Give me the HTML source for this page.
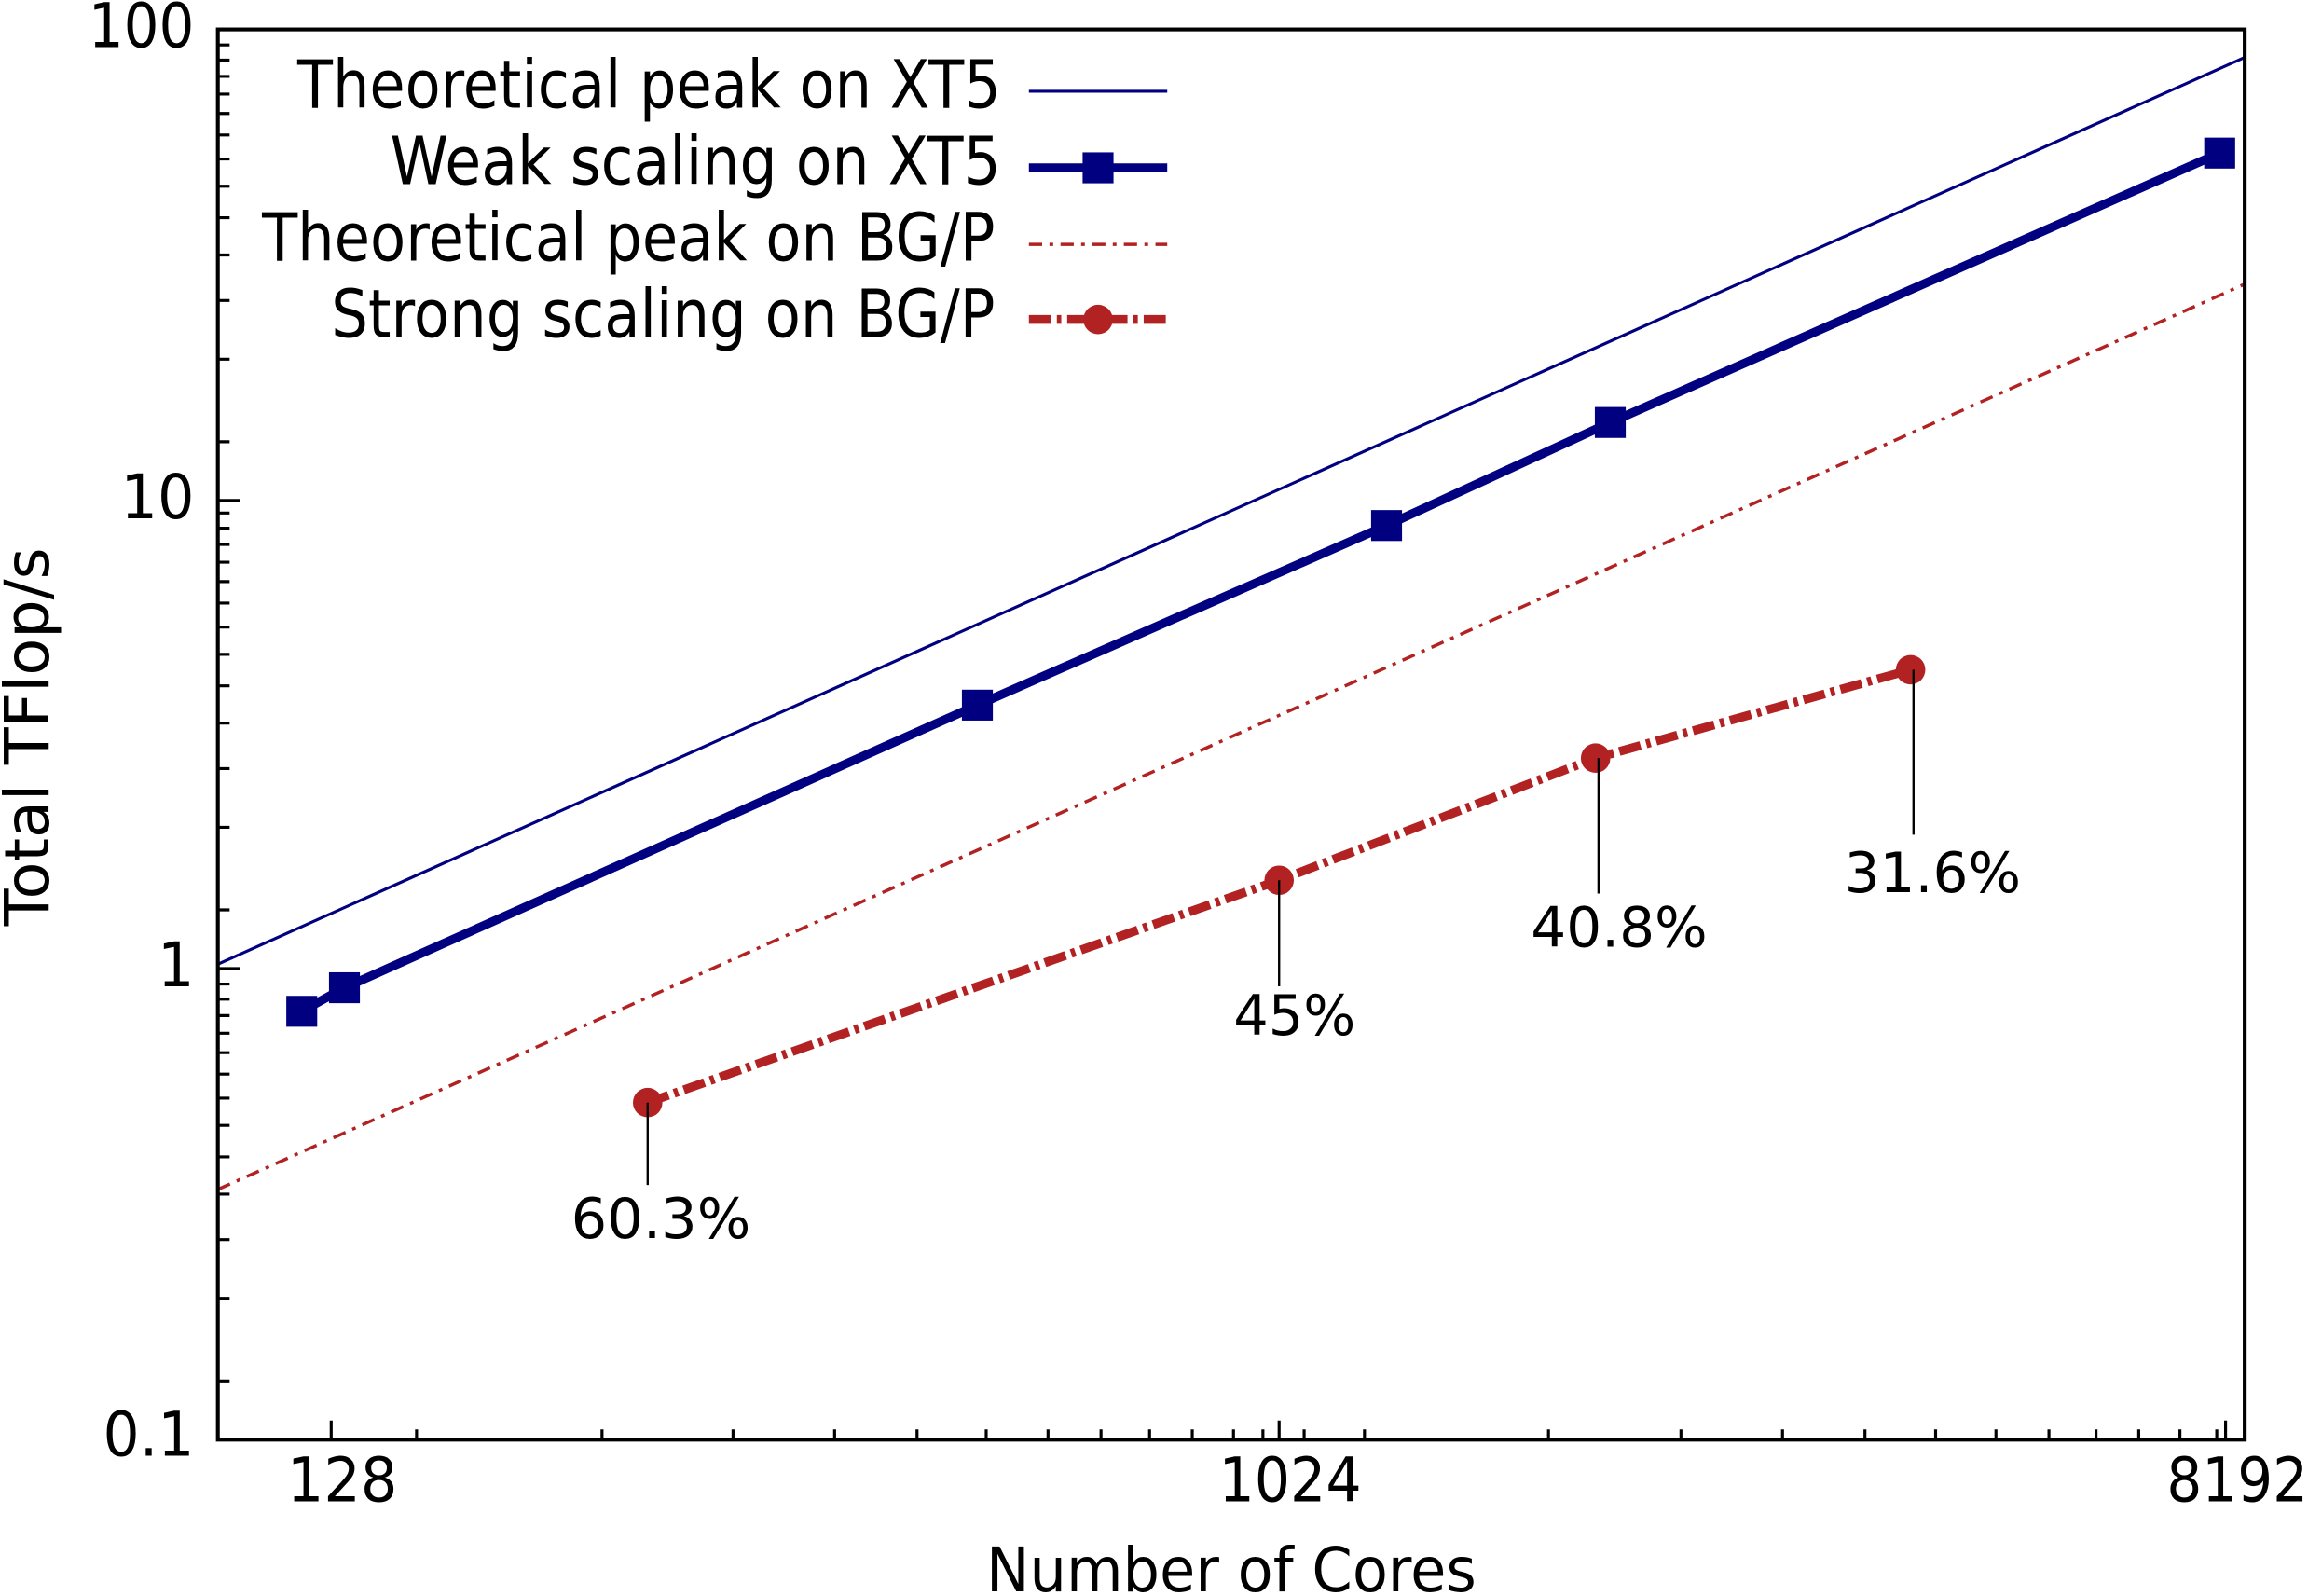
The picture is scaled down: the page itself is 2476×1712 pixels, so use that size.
<!DOCTYPE html>
<html><head><meta charset="utf-8"><style>html,body{margin:0;padding:0;background:#fff}svg{display:block}</style></head>
<body>
<svg width="2476" height="1712" viewBox="0 0 1568 1084.2" preserveAspectRatio="none" xmlns="http://www.w3.org/2000/svg" font-family="DejaVu Sans, Liberation Sans, sans-serif">
<rect width="1568" height="1085" fill="#fff"/>
<!-- series -->
<line x1="148" y1="655" x2="1525" y2="39" stroke="#000080" stroke-width="2"/>
<line x1="148" y1="808" x2="1525" y2="193" stroke="#b22222" stroke-width="2.2" stroke-dasharray="9,5,2.5,5"/>
<polyline points="205,687 234,671 664,479 942,357 1094,287 1508,104" fill="none" stroke="#000080" stroke-width="6"/>
<g fill="#000080">
<rect x="194.5" y="676.5" width="21" height="21"/><rect x="223.5" y="660.5" width="21" height="21"/>
<rect x="653.5" y="468.5" width="21" height="21"/><rect x="931.5" y="346.5" width="21" height="21"/>
<rect x="1083.5" y="276.5" width="21" height="21"/><rect x="1497.5" y="93.5" width="21" height="21"/>
</g>
<polyline points="440,749 869,598 1084,515 1298,455" fill="none" stroke="#b22222" stroke-width="6" stroke-dasharray="15,4,3,4"/>
<g fill="#b22222"><circle cx="440" cy="749" r="10"/><circle cx="869" cy="598" r="10"/><circle cx="1084" cy="515" r="10"/><circle cx="1298" cy="455" r="10"/></g>
<!-- annotations -->
<g stroke="#000" stroke-width="1.5">
<line x1="440" y1="749" x2="440" y2="805"/><line x1="869" y1="598" x2="869" y2="670"/>
<line x1="1086" y1="515" x2="1086" y2="607"/><line x1="1300" y1="455" x2="1300" y2="567"/>
</g>
<g font-size="38" fill="#000">
<text x="388" y="841" textLength="122" lengthAdjust="spacingAndGlyphs">60.3%</text>
<text x="838" y="703" textLength="83" lengthAdjust="spacingAndGlyphs">45%</text>
<text x="1040" y="643" textLength="120" lengthAdjust="spacingAndGlyphs">40.8%</text>
<text x="1253" y="606" textLength="120" lengthAdjust="spacingAndGlyphs">31.6%</text>
</g>
<!-- legend -->
<g font-size="45" fill="#000">
<text x="202" y="73" textLength="478" lengthAdjust="spacingAndGlyphs">Theoretical peak on XT5</text>
<text x="265" y="125" textLength="415" lengthAdjust="spacingAndGlyphs">Weak scaling on XT5</text>
<text x="178" y="177" textLength="498" lengthAdjust="spacingAndGlyphs">Theoretical peak on BG/P</text>
<text x="225" y="229" textLength="451" lengthAdjust="spacingAndGlyphs">Strong scaling on BG/P</text>
</g>
<line x1="699" y1="62" x2="793" y2="62" stroke="#000080" stroke-width="2"/>
<line x1="699" y1="114" x2="793" y2="114" stroke="#000080" stroke-width="6"/>
<rect x="735.5" y="103.5" width="21" height="21" fill="#000080"/>
<line x1="699" y1="166" x2="793" y2="166" stroke="#b22222" stroke-width="2.2" stroke-dasharray="9,5,2.5,5"/>
<line x1="699" y1="217" x2="793" y2="217" stroke="#b22222" stroke-width="6" stroke-dasharray="15,4,3,4"/>
<circle cx="746" cy="217" r="10" fill="#b22222"/>
<!-- axes frame -->
<rect x="148" y="20" width="1377" height="958" fill="none" stroke="#000" stroke-width="2.6"/>
<g stroke="#000" stroke-width="2" id="ticks"></g>
<!-- tick labels -->
<g font-size="42" fill="#000" text-anchor="end">
<text x="132" y="32" textLength="72" lengthAdjust="spacingAndGlyphs">100</text>
<text x="132" y="352" textLength="50" lengthAdjust="spacingAndGlyphs">10</text>
<text x="132" y="670" textLength="25" lengthAdjust="spacingAndGlyphs">1</text>
<text x="132" y="989" textLength="62" lengthAdjust="spacingAndGlyphs">0.1</text>
</g>
<g font-size="42" fill="#000">
<text x="195" y="1020" textLength="75" lengthAdjust="spacingAndGlyphs">128</text>
<text x="828" y="1020" textLength="97" lengthAdjust="spacingAndGlyphs">1024</text>
<text x="1472" y="1020" textLength="96" lengthAdjust="spacingAndGlyphs">8192</text>
<text x="670" y="1081" textLength="333" lengthAdjust="spacingAndGlyphs">Number of Cores</text>
<text transform="translate(33,629) rotate(-90)" x="0" y="0" textLength="257" lengthAdjust="spacingAndGlyphs">Total TFlop/s</text>
</g>
<g stroke="#000" stroke-width="2">
<!-- y major -->
<path d="M148 20h15M148 340h15M148 658h15M148 978h15"/>
<!-- y minor -->
<path d="M148 938.1h8M148 882h8M148 842.1h8M148 811.2h8M148 785.9h8M148 764.5h8M148 746h8M148 729.7h8M148 715.1h8M148 701.9h8M148 689.9h8M148 678.8h8M148 668.5h8
M148 618.1h8M148 562h8M148 522.1h8M148 491.2h8M148 465.9h8M148 444.5h8M148 426h8M148 409.7h8M148 395.1h8M148 381.9h8M148 369.9h8M148 358.8h8M148 348.5h8
M148 300.1h8M148 244h8M148 204.1h8M148 173.2h8M148 147.9h8M148 126.5h8M148 108h8M148 91.7h8M148 77.1h8M148 63.9h8M148 51.9h8M148 40.8h8M148 30.5h8"/>
<!-- x major -->
<path d="M225 978v-13M869 978v-13M1512 978v-13"/>
<!-- x minor -->
<path d="M283 978v-7M409 978v-7M498 978v-7M567 978v-7M623 978v-7M670 978v-7M712 978v-7M748 978v-7M781 978v-7M810 978v-7M838 978v-7M858 978v-7M886 978v-7M927 978v-7M1052 978v-7M1142 978v-7M1211 978v-7M1267 978v-7M1315 978v-7M1356 978v-7M1392 978v-7M1424 978v-7M1453 978v-7M1481 978v-7M1506 978v-7"/>
</g>
</svg>
</body></html>
